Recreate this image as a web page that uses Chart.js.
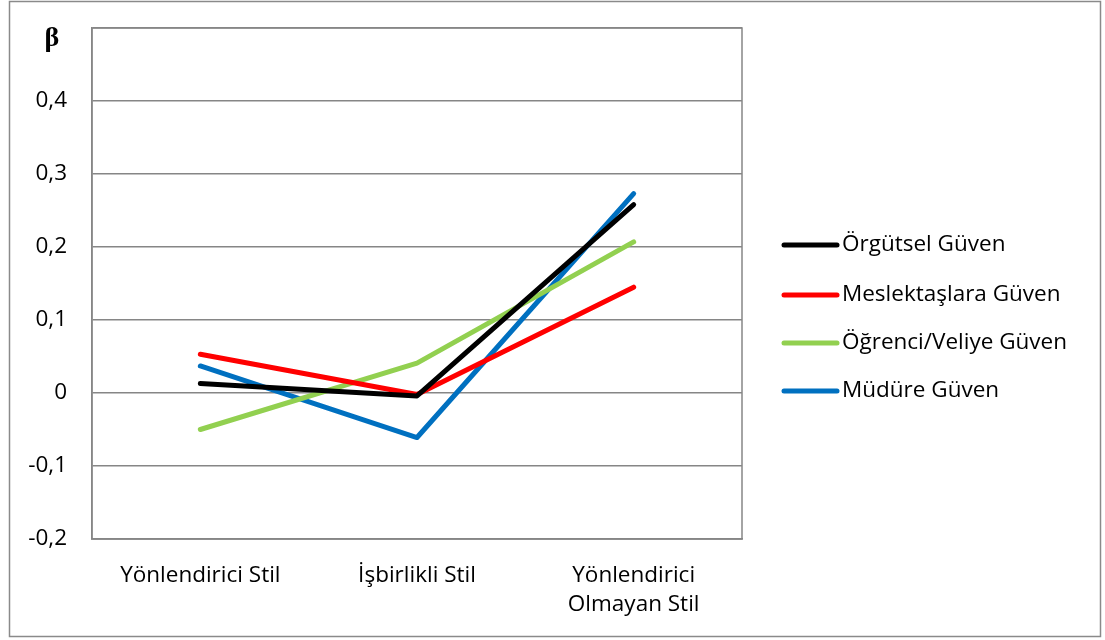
<!DOCTYPE html>
<html>
<head>
<meta charset="utf-8">
<script src="https://cdn.jsdelivr.net/npm/chart.js@4.4.1/dist/chart.umd.min.js"></script>
<style>
  html, body { margin: 0; padding: 0; background: #ffffff; }
  #wrap { width: 1105px; height: 640px; position: relative; }
</style>
</head>
<body>
<div id="wrap"><canvas id="c" width="1105" height="640"></canvas></div>
<script>
// Leadership styles on the x axis, standardized beta coefficients per trust dimension
const categories = [["Yönlendirici Stil"], ["İşbirlikli Stil"], ["Yönlendirici", "Olmayan Stil"]];
const seriesNames = ["Örgütsel Güven", "Meslektaşlara Güven", "Öğrenci/Veliye Güven", "Müdüre Güven"];
const orgutselGuven = [0.013, -0.004, 0.258];
const meslektaslaraGuven = [0.053, -0.002, 0.145];
const ogrenciVeliyeGuven = [-0.050, 0.041, 0.207];
const mudureGuven = [0.037, -0.061, 0.273];
const seriesColors = ["#000000", "#FF0000", "#92D050", "#0070C0"];
const yTicks = [-0.2, -0.1, 0, 0.1, 0.2, 0.3, 0.4, 0.5];
const yAxisTitle = "β";

const FONT = "'Open Sans', 'Noto Sans', sans-serif";
const FONT_SIZE = 22.5;
const GRID = "#868686";
const LINE_W = 5;

const seriesValues = [orgutselGuven, meslektaslaraGuven, ogrenciVeliyeGuven, mudureGuven];
const datasets = seriesNames.map((name, i) => ({
  label: name,
  data: seriesValues[i],
  borderColor: seriesColors[i],
  backgroundColor: seriesColors[i],
  borderWidth: LINE_W,
  pointRadius: 0,
  pointHoverRadius: 0,
  tension: 0,
  fill: false,
  borderCapStyle: "round",
  borderJoinStyle: "round"
}));

function fmt(v) {
  const r = Math.round(v * 10) / 10;
  if (r === 0) return "0";
  return r.toFixed(1).replace(".", ",");
}

// Outer frame, plot border, β label and the line legend on the right
const decorations = {
  id: "decorations",
  beforeDraw(chart) {
    const ctx = chart.ctx;
    ctx.save();
    ctx.fillStyle = "#ffffff";
    ctx.fillRect(0, 0, chart.width, chart.height);
    ctx.restore();
  },
  afterDraw(chart) {
    const ctx = chart.ctx;
    const a = chart.chartArea;
    ctx.save();
    ctx.strokeStyle = GRID;
    ctx.lineWidth = 1.5;
    ctx.strokeRect(a.left, a.top, a.right - a.left, a.bottom - a.top);

    ctx.lineWidth = 1.5;
    ctx.strokeStyle = "#8a8a8a";
    ctx.strokeRect(9.5, 1.5, 1091, 635);

    ctx.fillStyle = "#000000";
    ctx.font = "bold 28px 'Liberation Serif', 'DejaVu Serif', serif";
    ctx.textAlign = "center";
    ctx.textBaseline = "middle";
    ctx.fillText(yAxisTitle, 52, 39);

    const lx0 = 784, lx1 = 837, tx = 842;
    const rowY = [245, 295, 343, 391];
    ctx.font = FONT_SIZE + "px " + FONT;
    ctx.textAlign = "left";
    ctx.textBaseline = "middle";
    chart.data.datasets.forEach((ds, i) => {
      const y = rowY[i];
      ctx.strokeStyle = ds.borderColor;
      ctx.lineWidth = LINE_W;
      ctx.lineCap = "round";
      ctx.beginPath();
      ctx.moveTo(lx0, y);
      ctx.lineTo(lx1, y);
      ctx.stroke();
      ctx.fillStyle = "#000000";
      ctx.fillText(ds.label, tx, y);
    });
    ctx.restore();
  }
};

new Chart(document.getElementById("c"), {
  type: "line",
  data: { labels: categories, datasets },
  options: {
    responsive: false,
    animation: false,
    devicePixelRatio: 1,
    layout: { padding: { left: 0, top: 28, right: 363, bottom: 0 } },
    plugins: {
      legend: { display: false },
      tooltip: { enabled: false }
    },
    scales: {
      x: {
        offset: true,
        grid: { display: false, drawTicks: false },
        border: { display: true, color: GRID, width: 1.5 },
        ticks: {
          color: "#000000",
          font: { family: FONT, size: FONT_SIZE, lineHeight: 1.3 },
          padding: 22,
          maxRotation: 0,
          autoSkip: false
        },
        afterFit(s) { s.height = 101; }
      },
      y: {
        min: -0.2,
        max: 0.5,
        afterBuildTicks(s) { s.ticks = yTicks.map(v => ({ value: v })); },
        grid: { color: GRID, lineWidth: 1.5, drawTicks: false },
        border: { display: true, color: GRID, width: 1.5 },
        ticks: {
          color: "#000000",
          font: { family: FONT, size: FONT_SIZE },
          padding: 25,
          callback(v) { return v >= 0.45 ? "" : fmt(v); }
        },
        afterFit(s) { s.width = 92; s.paddingTop = 0; s.paddingBottom = 0; }
      }
    }
  },
  plugins: [decorations]
});
</script>
</body>
</html>
